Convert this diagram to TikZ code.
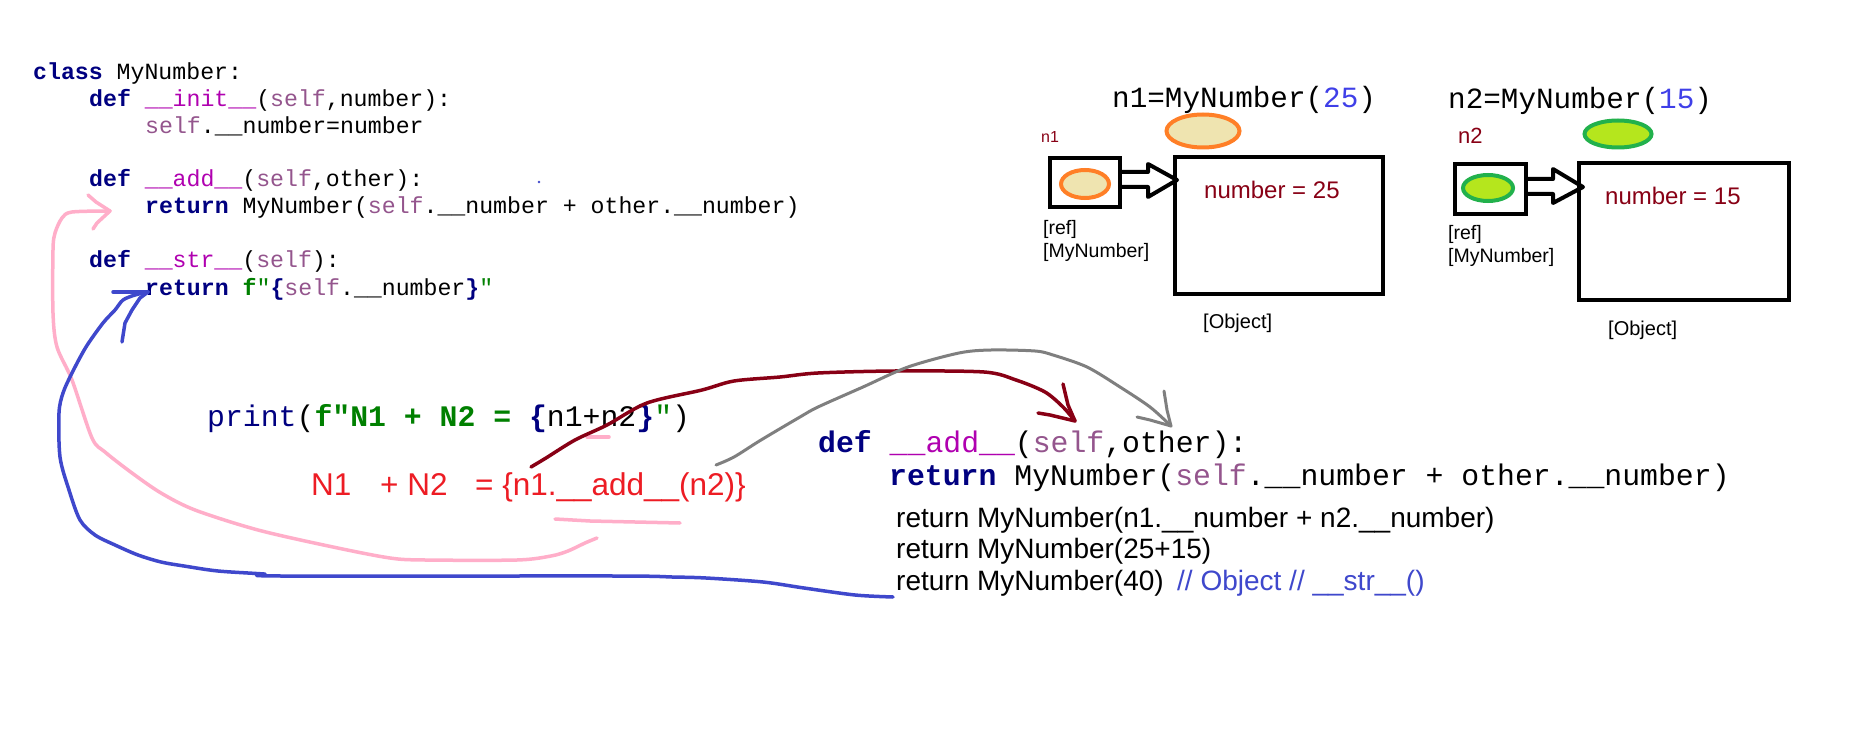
\documentclass[tikz,border=0pt]{standalone}
\usepackage{fontspec}
\newfontfamily\codef{Liberation Mono}
\newfontfamily\sansf{Liberation Sans}
\definecolor{kwc}{HTML}{000080}
\definecolor{dunc}{HTML}{B000B0}
\definecolor{selfc}{HTML}{94558D}
\definecolor{grnc}{HTML}{008000}
\definecolor{numc}{HTML}{3F3FE8}
\definecolor{drc}{HTML}{880015}
\definecolor{redc}{HTML}{ED1C24}
\definecolor{bluec}{HTML}{3F48CC}
\definecolor{pinkc}{HTML}{FFAEC9}
\definecolor{grayc}{HTML}{7F7F7F}
\definecolor{orangec}{HTML}{FF7F27}
\definecolor{tanc}{HTML}{EFE4B0}
\definecolor{greenc}{HTML}{22B14C}
\definecolor{limec}{HTML}{B5E61D}
\newcommand\kwd[1]{{\bfseries\color{kwc}#1}}
\newcommand\dun[1]{{\color{dunc}#1}}
\newcommand\slf{{\color{selfc}self}}
\newcommand\grn[1]{{\bfseries\color{grnc}#1}}
\newcommand\brc[1]{{\bfseries\color{kwc}#1}}
\newcommand\us{\_\_}
\tikzset{
  codeS/.style={inner sep=0pt, anchor=base west, font=\codef\fontsize{23.2}{27}\selectfont},
  codeL/.style={inner sep=0pt, anchor=base west, font=\codef\fontsize{29.8}{33}\selectfont},
  codeM/.style={inner sep=0pt, anchor=base west, font=\codef\fontsize{29.3}{33}\selectfont},
  sansT/.style={inner sep=0pt, anchor=base west, font=\sansf\fontsize{#1}{#1}\selectfont},
  sansT/.default=20,
  boxS/.style={draw=black, line width=4pt},
  hollow/.style={draw=black, line width=4pt, fill=white, line join=round},
  freehand/.style={line width=3.5pt, line cap=round, line join=round},
}
\begin{document}
\begin{tikzpicture}[x=1pt,y=-1pt]
\useasboundingbox[fill=white] (0,0) rectangle (1852,743);

% ---- left code ----
\node[codeS] (c1) at (33,80) {\kwd{class} MyNumber:};
\node[codeS] (c2) at (89,107) {\kwd{def} \dun{\us init\us}(\slf,number):};
\node[codeS] (c3) at (145,134) {\slf.\us number=number};
\node[codeS] (c4) at (89,187) {\kwd{def} \dun{\us add\us}(\slf,other):};
\node[codeS] (c5) at (145,214) {\kwd{return} MyNumber(\slf.\us number + other.\us number)};
\node[codeS] (c6) at (89,268) {\kwd{def} \dun{\us str\us}(\slf):};
\node[codeS] (c7) at (145,295) {\kwd{return} \grn{f}{\color{grnc}"}\brc{\{}\slf.\us number\brc{\}}{\color{grnc}"}};
\fill[bluec] (539,182) circle (1.3);

% ---- print line ----
\node[codeL] (pr) at (207,426) {{\color{kwc}print}(\grn{f"N1 + N2 = }\brc{\{}n1+n2\brc{\}}{\color{grnc}"})};
\node[sansT=31.5, text=redc] (rN1) at (311,495) {N1};
\node[sansT=31.5, text=redc] (rN2) at (380,495) {+ N2};
\node[sansT=31.5, text=redc] (rEq) at (475,495) {= \{n1.\_\_add\_\_(n2)\}};

% ---- right code ----
\node[codeL] (d1) at (818,452) {\kwd{def} \dun{\us add\us}(\slf,other):};
\node[codeL] (d2) at (889,485) {\kwd{return} MyNumber(\slf.\us number + other.\us number)};
\node[sansT=28] (r1) at (896,527) {return MyNumber(n1.\_\_number + n2.\_\_number)};
\node[sansT=28] (r2) at (896,558) {return MyNumber(25+15)};
\node[sansT=28] (r3) at (896,590) {return MyNumber(40)};
\node[sansT=28, text=bluec] (r4) at (1177,590) {// Object // \_\_str\_\_()};

% ---- object n1 ----
\node[codeM] (n1t) at (1112,108) {n1=MyNumber({\color{numc}25})};
\draw[orangec, line width=4pt, fill=tanc] (1203,131) ellipse [x radius=36.5, y radius=16.5];
\node[sansT=16, text=drc] (n1l) at (1041,143) {n1};
\draw[boxS] (1050,158) rectangle (1120,207);
\draw[orangec, line width=4pt, fill=tanc] (1085,184) ellipse [x radius=24, y radius=14];
\draw[hollow] (1122,172) -- (1148,172) -- (1148,164) -- (1177,180) -- (1148,197) -- (1148,187) -- (1122,187);
\draw[boxS] (1175,157) rectangle (1383,294);
\node[sansT=24, text=drc] (v1) at (1204,199) {number = 25};
\node[sansT=19.5] (ref1) at (1043,235) {[ref]};
\node[sansT=19.5] (cls1) at (1043,258) {[MyNumber]};
\node[sansT=20] (ob1) at (1203,328) {[Object]};

% ---- object n2 ----
\node[codeM] (n2t) at (1448,109) {n2=MyNumber({\color{numc}15})};
\draw[greenc, line width=4pt, fill=limec] (1618,134) ellipse [x radius=33.5, y radius=13.5];
\node[sansT=22, text=drc] (n2l) at (1458,144) {n2};
\draw[boxS] (1455,164) rectangle (1526,214);
\draw[greenc, line width=4pt, fill=limec] (1488,188) ellipse [x radius=25, y radius=13];
\draw[hollow] (1528,179) -- (1553,179) -- (1553,169) -- (1583,187) -- (1553,203) -- (1553,194) -- (1528,194);
\draw[boxS] (1579,163) rectangle (1789,300);
\node[sansT=24, text=drc] (v2) at (1605,205) {number = 15};
\node[sansT=19.5] (ref2) at (1448,240) {[ref]};
\node[sansT=19.5] (cls2) at (1448,263) {[MyNumber]};
\node[sansT=20] (ob2) at (1608,335) {[Object]};

% ---- freehand connectors ----
\coordinate (pS) at (597,538);
\coordinate (pE) at (110,211);
\draw[freehand, pinkc] plot[smooth, tension=0.5] coordinates {(pS) (585,543) (568,551) (551,556) (517,560) (425,560) (390,558) (333,547) (258,530) (195,510) (161,493) (132,473) (105,452) (92,438) (72,380) (57,347) (53,313) (53,250) (55,233) (62,218) (72,212) (pE)};
\draw[freehand, pinkc] (88,195) -- (96,202) -- (pE) -- (97,223) -- (93,229);
\draw[freehand, pinkc] (555,519) -- (590,521) -- (680,523);
\draw[freehand, pinkc] (587,437) -- (609,437);

\coordinate (bS) at (893,597);
\coordinate (bE) at (148,292);
\draw[freehand, bluec] plot[smooth, tension=0.5] coordinates {(bS) (855,595) (804,588) (763,582) (706,578) (672,577) (614,576) (281,576) (264,574) (218,571) (184,566) (161,562) (138,555) (115,545) (95,535) (80,520) (69,490) (60,457) (59,413) (63,393) (72,373) (86,347) (103,323) (115,310) (123,300) (135,295) (bE)};
\draw[freehand, bluec] (113,292) -- (bE);
\draw[freehand, bluec] (bE) -- (140,298) -- (132,310) -- (125,323) -- (122,342);

\coordinate (dS) at (531,467);
\coordinate (dE) at (1075,421);
\draw[freehand, drc] plot[smooth, tension=0.5] coordinates {(dS) (546,458) (575,440) (607,425) (647,403) (702,390) (734,381) (780,377) (818,373) (895,371) (984,372) (1016,380) (1045,392) (1063,407) (dE)};
\draw[freehand, drc] (1063,384) -- (1068,405) -- (dE) -- (1050,415) -- (1038,413);

\coordinate (gS) at (716,465);
\coordinate (gE) at (1171,426);
\draw[freehand, grayc, line width=3pt] plot[smooth, tension=0.5] coordinates {(gS) (734,457) (761,440) (800,417) (818,407) (863,387) (908,367) (959,353) (991,350) (1035,351) (1053,355) (1087,367) (1120,387) (1150,407) (gE)};
\draw[freehand, grayc, line width=3pt] (1164,391) -- (1167,410) -- (gE) -- (1150,420) -- (1137,417);
\end{tikzpicture}
\end{document}
